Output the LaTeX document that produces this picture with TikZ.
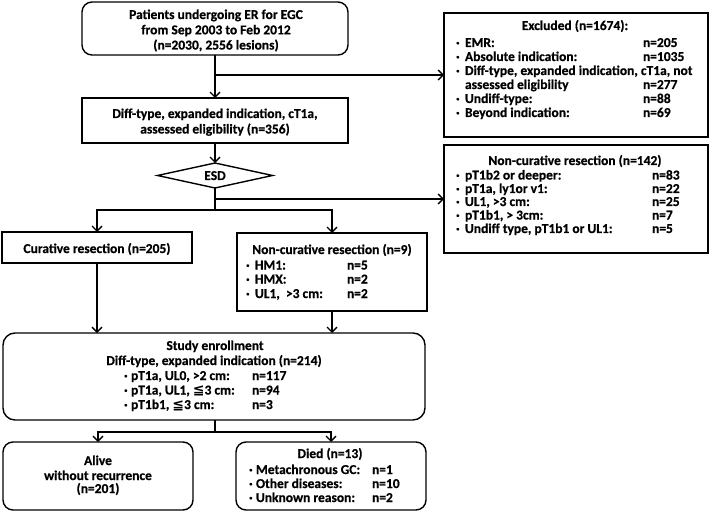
\documentclass[tikz,border=0pt]{standalone}
\usepackage{fontspec}
\setmainfont{Carlito}[BoldFeatures={FakeBold=0.6}]
\newfontfamily\djv{DejaVu Sans}
\usetikzlibrary{arrows.meta,shapes.geometric}
\newcommand\leqq{{\djv\bfseries\fontsize{14}{14}\selectfont ≦}}
\newcommand\tl[4]{\node[txt,anchor=base] (#1) at (#2,#3) {#4};}
\newcommand\rowat[7]{\node[txt,anchor=base west] (#1) at (#2,#5) {\makebox[#3pt][l]{·}\makebox[\dimexpr #4pt-#2pt-#3pt\relax][l]{#6}#7};}
\begin{document}
\begin{tikzpicture}[x=1pt,y=-1pt,
  txt/.style={inner sep=0pt,outer sep=0pt,font=\bfseries\fontsize{13.5}{14}\selectfont},
  box/.style={draw,line width=1.4pt,inner sep=0pt,outer sep=0pt},
  rbox/.style={box,rounded corners=10pt},
  arr/.style={line width=1.4pt,-{Straight Barb[length=5pt,width=10pt,line width=1.4pt]}},
  ln/.style={line width=1.4pt}]
\useasboundingbox (0,0) rectangle (709,513);
% boxes
\node[rbox,minimum width=266pt,minimum height=53pt] (top) at (215,28.5) {};
\node[box,minimum width=266pt,minimum height=45pt] (elig) at (215,120.5) {};
\node[box,diamond,minimum width=115pt,minimum height=25pt] (esd) at (215,175.5) {};
\node[box,minimum width=264pt,minimum height=124pt] (excl) at (576,75) {};
\node[box,minimum width=264pt,minimum height=108pt] (nc142) at (576,199) {};
\node[box,minimum width=190pt,minimum height=31pt] (cur) at (97,247.5) {};
\node[box,minimum width=190pt,minimum height=78pt] (nc9) at (332,272) {};
\node[rbox,rounded corners=12pt,minimum width=422pt,minimum height=87pt] (study) at (214,376.5) {};
\node[rbox,minimum width=190pt,minimum height=68pt] (alive) at (98,476) {};
\node[rbox,minimum width=190pt,minimum height=68pt] (died) at (331,476) {};
% texts
\tl{t1}{216}{19}{Patients undergoing ER for EGC}
\tl{t2}{216}{34.3}{from Sep 2003 to Feb 2012}
\tl{t3}{216}{49.5}{(n=2030, 2556 lesions)}
\tl{e1}{215}{118}{Diff-type, expanded indication, cT1a,}
\tl{e2}{215}{133.5}{assessed eligibility (n=356)}
\tl{esdt}{215}{180}{ESD}
\tl{x0}{575}{30}{Excluded (n=1674):}
\rowat{x1}{456}{9}{643}{47}{EMR:}{n=205}
\rowat{x2}{456}{9}{643}{61}{Absolute indication:}{n=1035}
\rowat{x3}{456}{9}{643}{75}{Diff-type, expanded indication, cT1a, not}{}
\node[txt,anchor=base west] (x3b) at (465,89) {\makebox[178pt][l]{assessed eligibility}n=277};
\rowat{x4}{456}{9}{643}{103}{Undiff-type:}{n=88}
\rowat{x5}{456}{9}{643}{117}{Beyond indication:}{n=69}
\tl{n0}{575}{165}{Non-curative resection (n=142)}
\rowat{n1}{456}{9}{652}{179.5}{pT1b2 or deeper:}{n=83}
\rowat{n2}{456}{9}{652}{193}{pT1a, ly1or v1:}{n=22}
\rowat{n3}{456}{9}{652}{206}{UL1, >3 cm:}{n=25}
\rowat{n4}{456}{9}{652}{219.5}{pT1b1, > 3cm:}{n=7}
\rowat{n5}{456}{9}{652}{233}{Undiff type, pT1b1 or UL1:}{n=5}
\tl{c0}{97}{253}{Curative resection (n=205)}
\tl{m0}{332}{254}{Non-curative resection (n=9)}
\rowat{m1}{246}{9}{347}{269.5}{HM1:}{n=5}
\rowat{m2}{246}{9}{347}{283.5}{HMX:}{n=2}
\rowat{m3}{246}{9}{347}{298}{UL1,~ >3 cm:}{n=2}
\tl{s0}{215}{350}{Study enrollment}
\tl{s1}{214}{365}{Diff-type, expanded indication (n=214)}
\rowat{s2}{124}{7}{252}{380}{pT1a, UL0, >2 cm:}{n=117}
\rowat{s3}{124}{7}{252}{394.5}{pT1a, UL1, \leqq3 cm:}{n=94}
\rowat{s4}{124}{7}{252}{409}{pT1b1, \leqq3 cm:}{n=3}
\tl{a1}{98}{465}{Alive}
\tl{a2}{98}{480}{without recurrence}
\tl{a3}{98}{493}{(n=201)}
\tl{d0}{330}{458}{Died (n=13)}
\rowat{d1}{249}{7}{372}{474}{Metachronous GC:}{n=1}
\rowat{d2}{249}{7}{372}{488}{Other diseases:}{n=10}
\rowat{d3}{249}{7}{372}{502}{Unknown reason:}{n=2}
% connectors
\draw[arr] (top.south) -- (elig.north);
\coordinate (b1) at (top.south |- excl.west);
\draw[arr] (b1) -- (excl.west);
\draw[arr] (elig.south) -- (esd.north);
\coordinate (sp1) at (215,210);
\draw[ln] (esd.south) -- (sp1);
\coordinate (b2) at (esd.south |- nc142.west);
\draw[arr] (b2) -- (nc142.west);
\draw[arr] (sp1) -| (cur.north);
\draw[arr] (sp1) -| (nc9.north);
\draw[arr] (cur.south) -- (cur.south |- study.north);
\draw[arr] (nc9.south) -- (nc9.south |- study.north);
\coordinate (sp2) at (215,432);
\draw[ln] (study.south -| sp2) -- (sp2);
\draw[arr] (sp2) -| (alive.north);
\draw[arr] (sp2) -| (died.north);
\end{tikzpicture}
\end{document}
